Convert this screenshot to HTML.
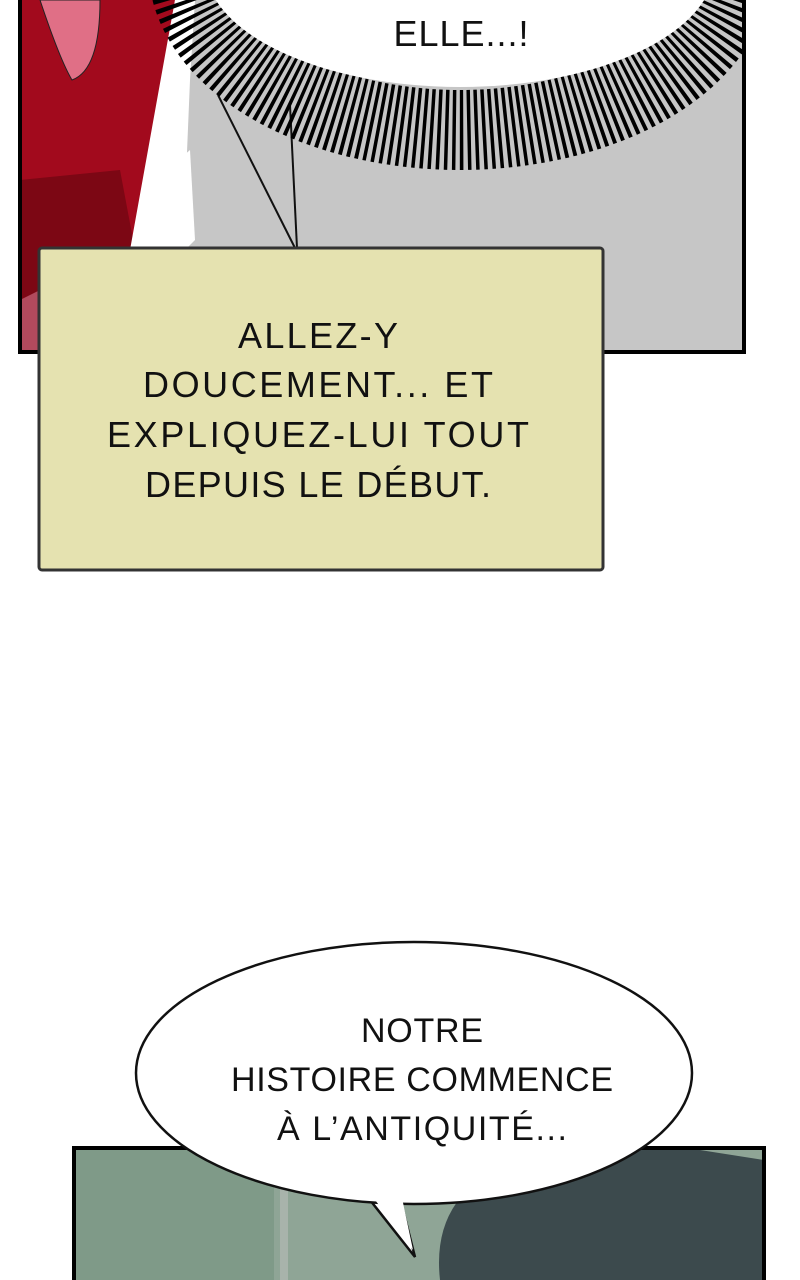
<!DOCTYPE html>
<html><head><meta charset="utf-8"><style>
html,body{margin:0;padding:0;background:#fff;}
body{width:800px;height:1280px;overflow:hidden;position:relative;}
svg{position:absolute;left:0;top:0;}
</style></head><body>
<svg width="800" height="1280" viewBox="0 0 800 1280" xmlns="http://www.w3.org/2000/svg">
<defs><clipPath id="p1"><rect x="20" y="0" width="724" height="352"/></clipPath>
<clipPath id="p2"><rect x="74" y="1148" width="690" height="140"/></clipPath></defs>
<g clip-path="url(#p1)">
<rect x="20" y="0" width="724" height="352" fill="#c6c6c6"/>
<polygon points="20,0 175,0 140,250 128,352 20,352" fill="#a20a1d"/>
<polygon points="20,180 120,170 135,250 20,300" fill="#7c0714"/>
<polygon points="20,300 60,280 90,352 20,352" fill="#b24a5d"/>
<polygon points="175,0 195,0 190,80 185,200 130,250" fill="#fff"/>
<path d="M40,0 Q60,60 72,80 Q100,70 100,0 Z" fill="#e06f86" stroke="#222" stroke-width="1"/>
<polygon points="130,250 150,185 190,150 195,240 175,260" fill="#fff"/>
<line x1="218" y1="95" x2="295" y2="248" stroke="#111" stroke-width="2"/>
<line x1="290" y1="105" x2="297" y2="248" stroke="#111" stroke-width="2"/>
<ellipse cx="460" cy="-35" rx="272" ry="165" fill="none" stroke="#000" stroke-width="80" stroke-dasharray="3.5 4"/>
<ellipse cx="460" cy="-35" rx="255" ry="122" fill="#fff"/>
</g>
<rect x="20" y="-5" width="724" height="357" fill="none" stroke="#000" stroke-width="4"/>
<text x="461" y="46" font-family="Liberation Sans, sans-serif" font-size="36" text-anchor="middle" fill="#111" textLength="135">ELLE...!</text>
<rect x="39" y="248" width="564" height="322" rx="3" fill="#e5e2b0" stroke="#333" stroke-width="3"/>
<g font-family="Liberation Sans, sans-serif" font-size="36" fill="#111" text-anchor="middle">
<text x="318" y="348" textLength="160">ALLEZ-Y</text>
<text x="318" y="397" textLength="350">DOUCEMENT... ET</text>
<text x="318" y="447" textLength="422">EXPLIQUEZ-LUI TOUT</text>
<text x="318" y="497" textLength="346">DEPUIS LE DÉBUT.</text>
</g>
<g clip-path="url(#p2)">
<rect x="74" y="1148" width="690" height="140" fill="#8fa596"/>
<rect x="74" y="1148" width="200" height="140" fill="#7f9a88"/>
<rect x="280" y="1150" width="8" height="130" fill="#a8b3ab"/>
<path d="M440,1280 Q430,1190 520,1160 Q620,1140 700,1150 L764,1160 L764,1280 Z" fill="#3c4a4d"/>
</g>
<rect x="74" y="1148" width="690" height="140" fill="none" stroke="#000" stroke-width="4"/>
<path d="M370,1200 L415,1257 L400,1198 Z" fill="#fff" stroke="#111" stroke-width="2.5"/>
<ellipse cx="414" cy="1073" rx="278" ry="131" fill="#fff" stroke="#111" stroke-width="2.5"/>
<path d="M372,1196 L413,1250 L402,1198" fill="#fff"/>
<g font-family="Liberation Sans, sans-serif" font-size="34" fill="#111" text-anchor="middle">
<text x="422" y="1042" textLength="122">NOTRE</text>
<text x="422" y="1091" textLength="382">HISTOIRE COMMENCE</text>
<text x="422" y="1140" textLength="290">À L’ANTIQUITÉ...</text>
</g>
</svg>
</body></html>
